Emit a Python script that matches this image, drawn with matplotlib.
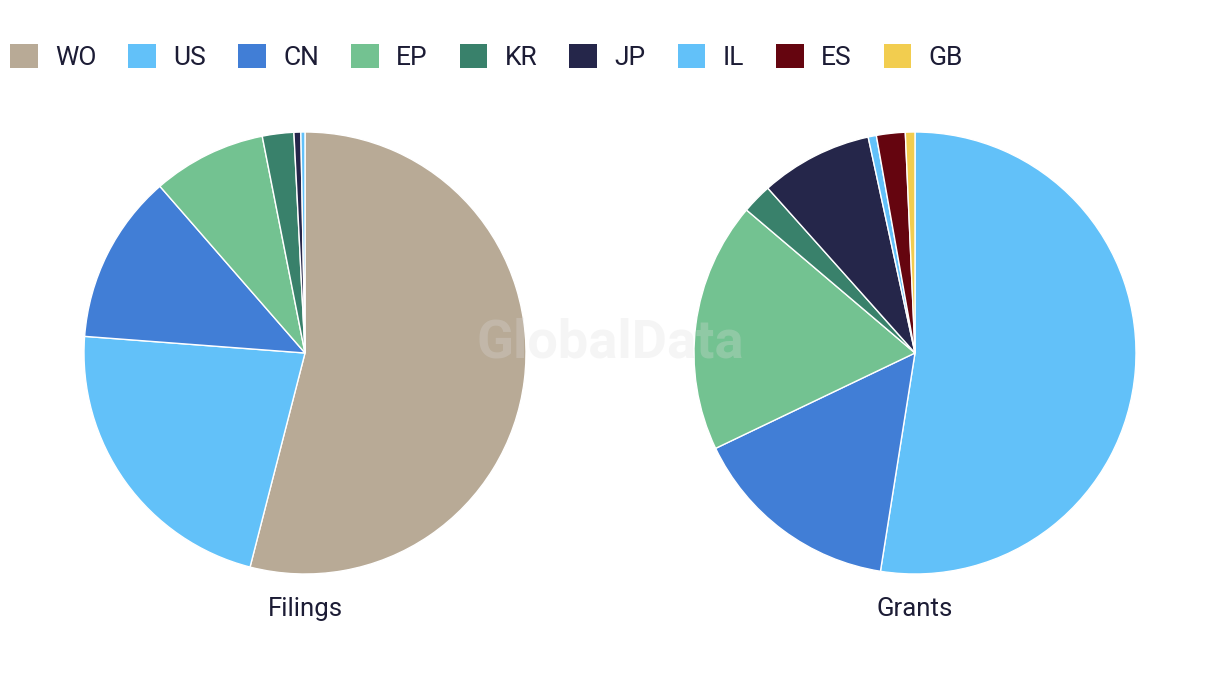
import matplotlib.pyplot as plt
from matplotlib.patches import Patch

plt.rcParams['font.family'] = ['Roboto', 'DejaVu Sans']

codes = ["WO", "US", "CN", "EP", "KR", "JP", "IL", "ES", "GB"]
colors = ["#b8aa96", "#62c1f9", "#417ed6", "#73c291", "#39816b",
          "#25264a", "#62c1f9", "#65050f", "#f2cd4f"]

# share of each office (%)
filing_codes = ["WO", "US", "CN", "EP", "KR", "JP", "IL"]
filing_vals = [54.0, 22.2, 12.4, 8.3, 2.3, 0.5, 0.3]

grant_codes = ["US", "CN", "EP", "KR", "JP", "IL", "ES", "GB"]
grant_vals = [52.5, 15.4, 18.3, 2.2, 8.2, 0.6, 2.1, 0.7]

color_of = dict(zip(codes, colors))
text_color = "#1c1c35"

fig = plt.figure(figsize=(12.2, 6.86), dpi=100)
W, H = 1220, 686


def draw_pie(cx, cy, r, vals, labels, title):
    ax = fig.add_axes([(cx - r) / W, (H - cy - r) / H, 2 * r / W, 2 * r / H])
    ax.pie(vals, colors=[color_of[c] for c in labels], startangle=90,
           counterclock=False,
           wedgeprops=dict(edgecolor="white", linewidth=1))
    ax.set_aspect("equal")
    ax.set_xlim(-1, 1)
    ax.set_ylim(-1, 1)
    fig.text(cx / W, 1 - 609 / H, title, ha="center", va="center",
             fontsize=18.5, color=text_color)


draw_pie(305, 353, 221, filing_vals, filing_codes, "Filings")
draw_pie(915, 353, 221, grant_vals, grant_codes, "Grants")

fig.text(610 / W, 1 - 343 / H, "GlobalData", ha="center", va="center",
         fontsize=39, fontweight="bold", color="#dcdcdc", alpha=0.28)

handles = [Patch(facecolor=c, edgecolor="none") for c in colors]
fig.legend(handles, codes, loc="center left",
           bbox_to_anchor=(2 / W, 1 - 57 / H),
           ncol=9, frameon=False, fontsize=19, labelcolor=text_color,
           handlelength=1.05, handleheight=1.05, handletextpad=0.65,
           columnspacing=1.22, borderaxespad=0.0, borderpad=0.3)

fig.savefig("out.png", dpi=100)
